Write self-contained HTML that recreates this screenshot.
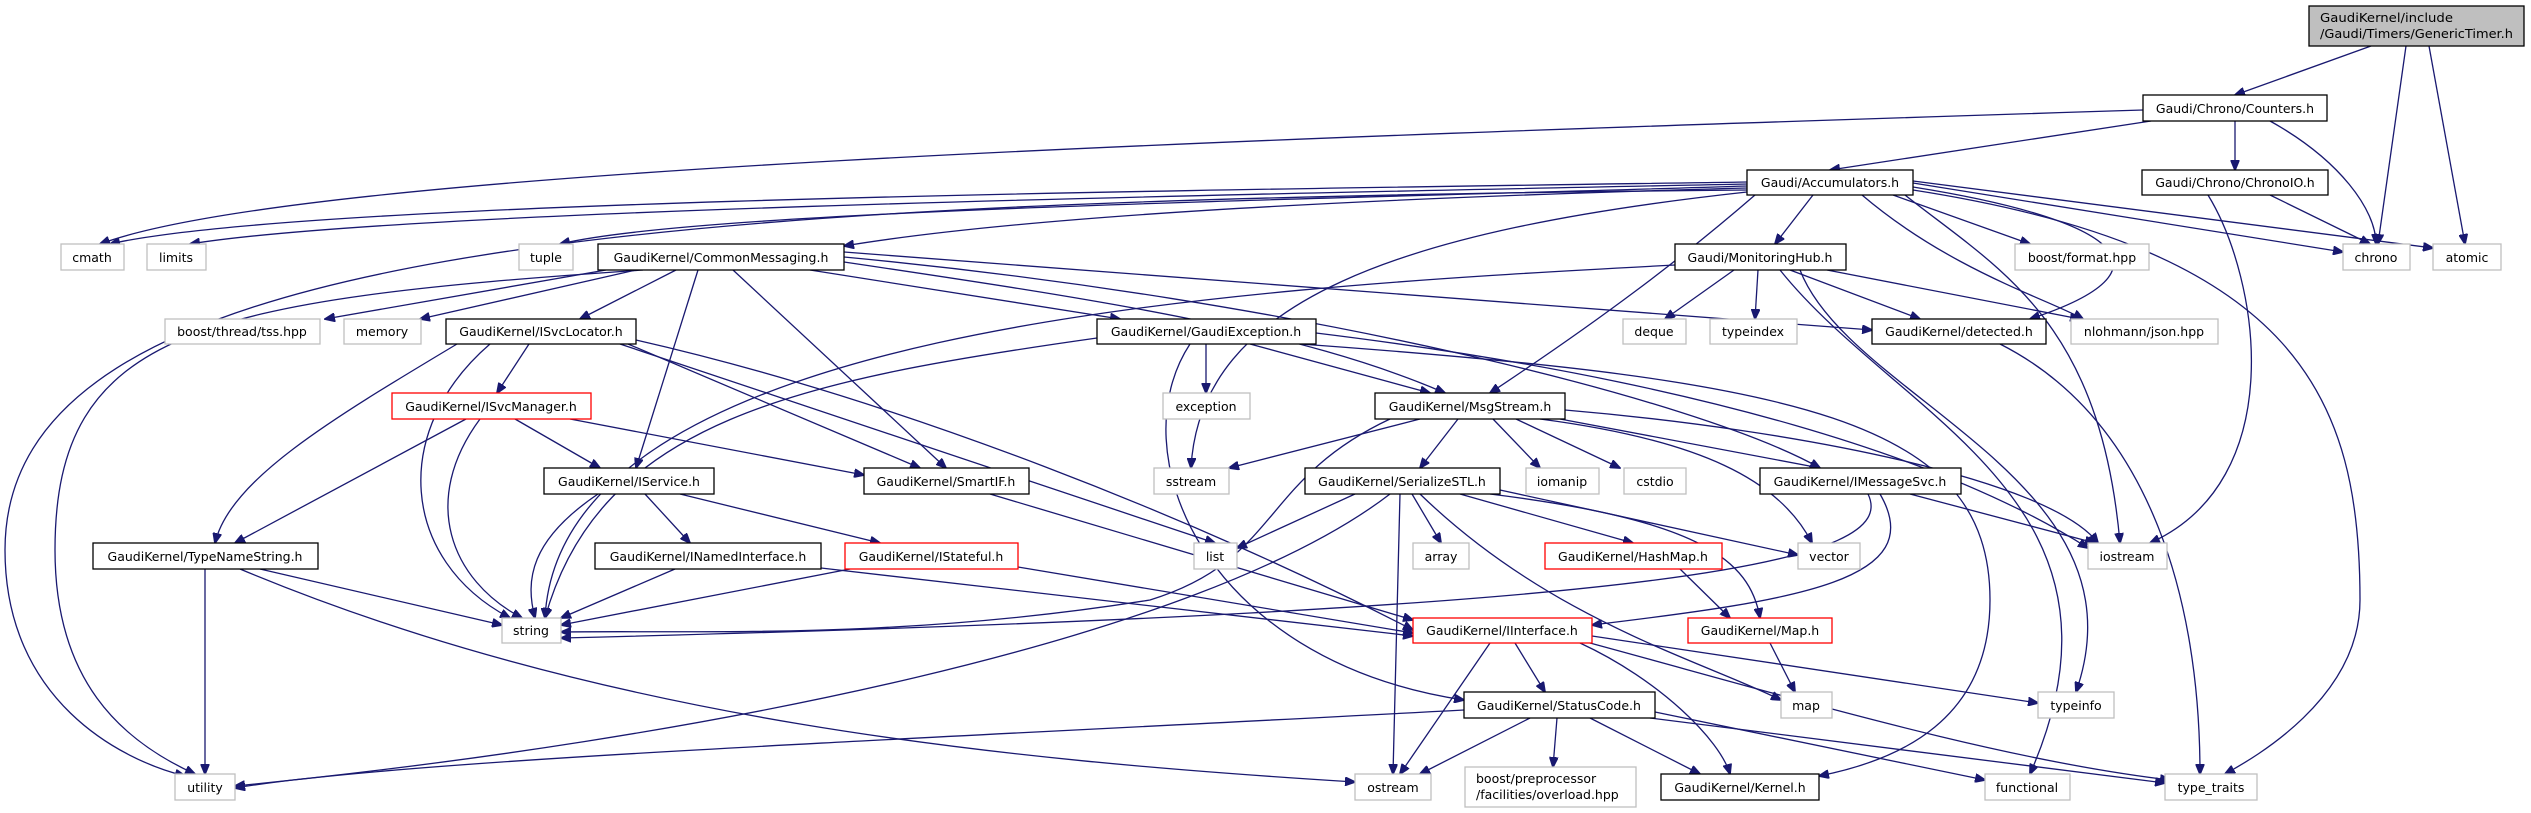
<!DOCTYPE html>
<html><head><meta charset="utf-8"><style>
html,body{margin:0;padding:0;background:#fff;}
svg{display:block;}
text{font-family:"DejaVu Sans","Liberation Sans",sans-serif;font-size:12.5px;fill:#000;}
.e{fill:none;stroke:#191970;stroke-width:1.3;marker-end:url(#a);}
.k{fill:#fff;stroke:#000;stroke-width:1.3;}
.g{fill:#fff;stroke:#bfbfbf;stroke-width:1.3;}
.r{fill:#fff;stroke:#ff0000;stroke-width:1.3;}
</style></head><body>
<svg width="2531" height="813" viewBox="0 0 2531 813" xmlns="http://www.w3.org/2000/svg">
<defs><marker id="a" markerWidth="11" markerHeight="9" refX="10" refY="4.5" orient="auto" markerUnits="userSpaceOnUse"><path d="M0,0 L11,4.5 L0,9z" fill="#191970" stroke="#191970"/></marker></defs>
<g>
<path class="e" d="M2371,46 L2235,95"/>
<path class="e" d="M2406,46 L2378,244"/>
<path class="e" d="M2429,46 L2465,244"/>
<path class="e" d="M2151,121 L1830,170"/>
<path class="e" d="M2235,121 L2235,170"/>
<path class="e" d="M2270,121 C2340,160 2376,210 2376,244"/>
<path class="e" d="M2143,110 C1200,140 300,170 100,244"/>
<path class="e" d="M2270,195 L2370,244"/>
<path class="e" d="M2208,195 C2260,280 2290,480 2150,543"/>
<path class="e" d="M1747,182 C1200,190 300,200 110,244"/>
<path class="e" d="M1747,184 C1200,195 400,210 190,244"/>
<path class="e" d="M1747,186 C1300,200 700,210 560,244"/>
<path class="e" d="M1747,188 C1300,200 1000,220 844,246"/>
<path class="e" d="M1747,190 C600,200 5,250 5,550 C5,700 120,760 185,776"/>
<path class="e" d="M643,270 C200,300 55,330 55,550 C55,680 120,740 195,774"/>
<path class="e" d="M1813,195 L1775,244"/>
<path class="e" d="M1893,195 L2030,244"/>
<path class="e" d="M1913,183 L2343,252"/>
<path class="e" d="M1913,181 L2433,248"/>
<path class="e" d="M1913,187 C2120,220 2180,270 2030,319"/>
<path class="e" d="M1862,195 C1950,270 2050,300 2083,319"/>
<path class="e" d="M1905,195 C2000,270 2100,320 2120,543"/>
<path class="e" d="M1913,190 C2300,250 2360,400 2360,600 C2360,700 2250,760 2225,774"/>
<path class="e" d="M1755,195 C1680,260 1600,320 1490,393"/>
<path class="e" d="M1747,192 C1400,230 1200,300 1191,468"/>
<path class="e" d="M1734,270 L1665,319"/>
<path class="e" d="M1758,270 L1755,319"/>
<path class="e" d="M1790,270 L1920,319"/>
<path class="e" d="M1827,270 L2080,319"/>
<path class="e" d="M1675,265 C1200,290 560,330 545,618"/>
<path class="e" d="M1800,270 C1850,400 2150,480 2076,692"/>
<path class="e" d="M1780,270 C1900,420 2150,500 2030,774"/>
<path class="e" d="M606,270 L325,319"/>
<path class="e" d="M636,270 L420,319"/>
<path class="e" d="M676,270 L580,319"/>
<path class="e" d="M698,270 L636,468"/>
<path class="e" d="M733,270 L946,468"/>
<path class="e" d="M844,262 C1100,300 1300,330 1445,393"/>
<path class="e" d="M810,270 L1120,319"/>
<path class="e" d="M844,257 C1300,300 1700,400 1820,468"/>
<path class="e" d="M844,252 L1872,330"/>
<path class="e" d="M529,344 L497,393"/>
<path class="e" d="M457,344 C330,420 230,480 215,543"/>
<path class="e" d="M490,344 C390,430 400,560 510,618"/>
<path class="e" d="M628,344 L920,468"/>
<path class="e" d="M636,340 C900,400 1200,520 1413,630"/>
<path class="e" d="M620,344 L1215,543"/>
<path class="e" d="M466,419 L235,543"/>
<path class="e" d="M480,419 C420,500 450,580 522,618"/>
<path class="e" d="M515,419 L600,468"/>
<path class="e" d="M570,419 L864,475"/>
<path class="e" d="M598,494 C530,540 525,580 535,618"/>
<path class="e" d="M645,494 L690,543"/>
<path class="e" d="M680,494 L880,543"/>
<path class="e" d="M675,569 L561,618"/>
<path class="e" d="M821,568 L1413,636"/>
<path class="e" d="M850,569 L561,625"/>
<path class="e" d="M1018,567 L1413,633"/>
<path class="e" d="M260,569 L502,625"/>
<path class="e" d="M205,569 L205,774"/>
<path class="e" d="M240,569 C600,720 1000,760 1355,782"/>
<path class="e" d="M990,494 L1413,620"/>
<path class="e" d="M1206,344 L1206,393"/>
<path class="e" d="M1250,344 L1430,393"/>
<path class="e" d="M1097,338 C800,380 600,420 545,618"/>
<path class="e" d="M1190,344 C1120,450 1200,660 1464,700"/>
<path class="e" d="M1300,344 C1800,380 1990,420 1990,600 C1990,720 1900,760 1819,776"/>
<path class="e" d="M1316,333 C1700,380 1950,460 2088,548"/>
<path class="e" d="M1420,419 L1229,468"/>
<path class="e" d="M1458,419 L1420,468"/>
<path class="e" d="M1493,419 L1540,468"/>
<path class="e" d="M1516,419 L1620,468"/>
<path class="e" d="M1560,419 L1820,468"/>
<path class="e" d="M1390,419 C1260,480 1280,560 1150,600 C900,640 700,630 561,632"/>
<path class="e" d="M1540,419 C1700,440 1780,480 1812,543"/>
<path class="e" d="M1565,410 C1800,430 2050,480 2098,543"/>
<path class="e" d="M1355,494 L1237,548"/>
<path class="e" d="M1412,494 L1441,543"/>
<path class="e" d="M1460,494 L1633,543"/>
<path class="e" d="M1490,494 C1700,520 1750,560 1760,618"/>
<path class="e" d="M1500,490 L1798,555"/>
<path class="e" d="M1400,494 L1393,774"/>
<path class="e" d="M1390,494 C1200,640 700,740 235,786"/>
<path class="e" d="M1420,494 C1550,620 1700,660 1781,700"/>
<path class="e" d="M1680,569 L1730,618"/>
<path class="e" d="M1770,643 L1795,692"/>
<path class="e" d="M1910,494 L2095,543"/>
<path class="e" d="M1880,494 C1930,580 1800,600 1592,625"/>
<path class="e" d="M1868,494 C1900,560 1700,610 561,638"/>
<path class="e" d="M1515,643 L1545,692"/>
<path class="e" d="M1490,643 L1400,774"/>
<path class="e" d="M1580,643 C1660,680 1720,740 1730,774"/>
<path class="e" d="M1592,636 L2038,703"/>
<path class="e" d="M1590,643 C1800,700 2000,760 2170,780"/>
<path class="e" d="M1530,718 L1420,774"/>
<path class="e" d="M1557,718 L1553,767"/>
<path class="e" d="M1590,718 L1700,774"/>
<path class="e" d="M1655,712 L1985,780"/>
<path class="e" d="M1464,710 C900,740 400,760 235,788"/>
<path class="e" d="M1650,718 L2165,783"/>
<path class="e" d="M2000,344 C2150,420 2200,600 2200,774"/>
</g>
<g>
<rect x="2309" y="6" width="215" height="40" fill="#bfbfbf" stroke="#000" stroke-width="1.3"/>
<text x="2320" y="22" textLength="133" lengthAdjust="spacingAndGlyphs">GaudiKernel/include</text>
<text x="2320" y="38" textLength="193" lengthAdjust="spacingAndGlyphs">/Gaudi/Timers/GenericTimer.h</text>

<rect class="k" x="2143" y="95" width="184" height="26"/><text x="2235" y="113" text-anchor="middle">Gaudi/Chrono/Counters.h</text>
<rect class="k" x="1747" y="170" width="166" height="25"/><text x="1830" y="187" text-anchor="middle">Gaudi/Accumulators.h</text>
<rect class="k" x="2142" y="170" width="186" height="25"/><text x="2235" y="187" text-anchor="middle">Gaudi/Chrono/ChronoIO.h</text>
<rect class="g" x="2343" y="244" width="67" height="26"/><text x="2376" y="262" text-anchor="middle">chrono</text>
<rect class="g" x="2433" y="244" width="68" height="26"/><text x="2467" y="262" text-anchor="middle">atomic</text>
<rect class="g" x="2015" y="244" width="134" height="26"/><text x="2082" y="262" text-anchor="middle">boost/format.hpp</text>
<rect class="k" x="1675" y="244" width="171" height="26"/><text x="1760" y="262" text-anchor="middle">Gaudi/MonitoringHub.h</text>
<rect class="g" x="1710" y="319" width="87" height="25"/><text x="1753" y="336" text-anchor="middle">typeindex</text>
<rect class="k" x="1872" y="319" width="174" height="25"/><text x="1959" y="336" text-anchor="middle">GaudiKernel/detected.h</text>
<rect class="g" x="2071" y="319" width="147" height="25"/><text x="2144" y="336" text-anchor="middle">nlohmann/json.hpp</text>
<rect class="g" x="1623" y="319" width="63" height="25"/><text x="1654" y="336" text-anchor="middle">deque</text>
<rect class="g" x="61" y="244" width="63" height="26"/><text x="92" y="262" text-anchor="middle">cmath</text>
<rect class="g" x="147" y="244" width="59" height="26"/><text x="176" y="262" text-anchor="middle">limits</text>
<rect class="g" x="519" y="244" width="54" height="26"/><text x="546" y="262" text-anchor="middle">tuple</text>
<rect class="k" x="598" y="244" width="246" height="26"/><text x="721" y="262" text-anchor="middle">GaudiKernel/CommonMessaging.h</text>
<rect class="g" x="165" y="319" width="155" height="25"/><text x="242" y="336" text-anchor="middle">boost/thread/tss.hpp</text>
<rect class="g" x="344" y="319" width="77" height="25"/><text x="382" y="336" text-anchor="middle">memory</text>
<rect class="k" x="446" y="319" width="190" height="25"/><text x="541" y="336" text-anchor="middle">GaudiKernel/ISvcLocator.h</text>
<rect class="r" x="392" y="393" width="199" height="26"/><text x="491" y="411" text-anchor="middle">GaudiKernel/ISvcManager.h</text>
<rect class="k" x="1097" y="319" width="219" height="25"/><text x="1206" y="336" text-anchor="middle">GaudiKernel/GaudiException.h</text>
<rect class="g" x="1163" y="393" width="87" height="26"/><text x="1206" y="411" text-anchor="middle">exception</text>
<rect class="k" x="1375" y="393" width="190" height="26"/><text x="1470" y="411" text-anchor="middle">GaudiKernel/MsgStream.h</text>
<rect class="k" x="544" y="468" width="170" height="26"/><text x="629" y="486" text-anchor="middle">GaudiKernel/IService.h</text>
<rect class="k" x="864" y="468" width="165" height="26"/><text x="946" y="486" text-anchor="middle">GaudiKernel/SmartIF.h</text>
<rect class="g" x="1154" y="468" width="75" height="26"/><text x="1191" y="486" text-anchor="middle">sstream</text>
<rect class="k" x="1305" y="468" width="195" height="26"/><text x="1402" y="486" text-anchor="middle">GaudiKernel/SerializeSTL.h</text>
<rect class="g" x="1526" y="468" width="73" height="26"/><text x="1562" y="486" text-anchor="middle">iomanip</text>
<rect class="g" x="1624" y="468" width="62" height="26"/><text x="1655" y="486" text-anchor="middle">cstdio</text>
<rect class="k" x="1760" y="468" width="201" height="26"/><text x="1860" y="486" text-anchor="middle">GaudiKernel/IMessageSvc.h</text>
<rect class="k" x="93" y="543" width="225" height="26"/><text x="205" y="561" text-anchor="middle">GaudiKernel/TypeNameString.h</text>
<rect class="k" x="595" y="543" width="226" height="26"/><text x="708" y="561" text-anchor="middle">GaudiKernel/INamedInterface.h</text>
<rect class="r" x="845" y="543" width="173" height="26"/><text x="931" y="561" text-anchor="middle">GaudiKernel/IStateful.h</text>
<rect class="g" x="1194" y="543" width="43" height="26"/><text x="1215" y="561" text-anchor="middle">list</text>
<rect class="g" x="1413" y="543" width="56" height="26"/><text x="1441" y="561" text-anchor="middle">array</text>
<rect class="r" x="1545" y="543" width="177" height="26"/><text x="1633" y="561" text-anchor="middle">GaudiKernel/HashMap.h</text>
<rect class="g" x="1798" y="543" width="62" height="26"/><text x="1829" y="561" text-anchor="middle">vector</text>
<rect class="g" x="2088" y="543" width="79" height="26"/><text x="2127" y="561" text-anchor="middle">iostream</text>
<rect class="g" x="502" y="618" width="59" height="25"/><text x="531" y="635" text-anchor="middle">string</text>
<rect class="r" x="1413" y="618" width="179" height="25"/><text x="1502" y="635" text-anchor="middle">GaudiKernel/IInterface.h</text>
<rect class="r" x="1688" y="618" width="144" height="25"/><text x="1760" y="635" text-anchor="middle">GaudiKernel/Map.h</text>
<rect class="g" x="1781" y="692" width="51" height="26"/><text x="1806" y="710" text-anchor="middle">map</text>
<rect class="g" x="2038" y="692" width="76" height="26"/><text x="2076" y="710" text-anchor="middle">typeinfo</text>
<rect class="k" x="1464" y="692" width="191" height="26"/><text x="1559" y="710" text-anchor="middle">GaudiKernel/StatusCode.h</text>
<rect class="g" x="175" y="774" width="60" height="26"/><text x="205" y="792" text-anchor="middle">utility</text>
<rect class="g" x="1355" y="774" width="76" height="26"/><text x="1393" y="792" text-anchor="middle">ostream</text>
<rect class="g" x="1465" y="767" width="171" height="40"/>
<text x="1476" y="783">boost/preprocessor</text>
<text x="1476" y="799">/facilities/overload.hpp</text>
<rect class="k" x="1661" y="774" width="158" height="26"/><text x="1740" y="792" text-anchor="middle">GaudiKernel/Kernel.h</text>
<rect class="g" x="1985" y="774" width="85" height="26"/><text x="2027" y="792" text-anchor="middle">functional</text>
<rect class="g" x="2165" y="774" width="92" height="26"/><text x="2211" y="792" text-anchor="middle">type_traits</text>
</g>
</svg>
</body></html>
